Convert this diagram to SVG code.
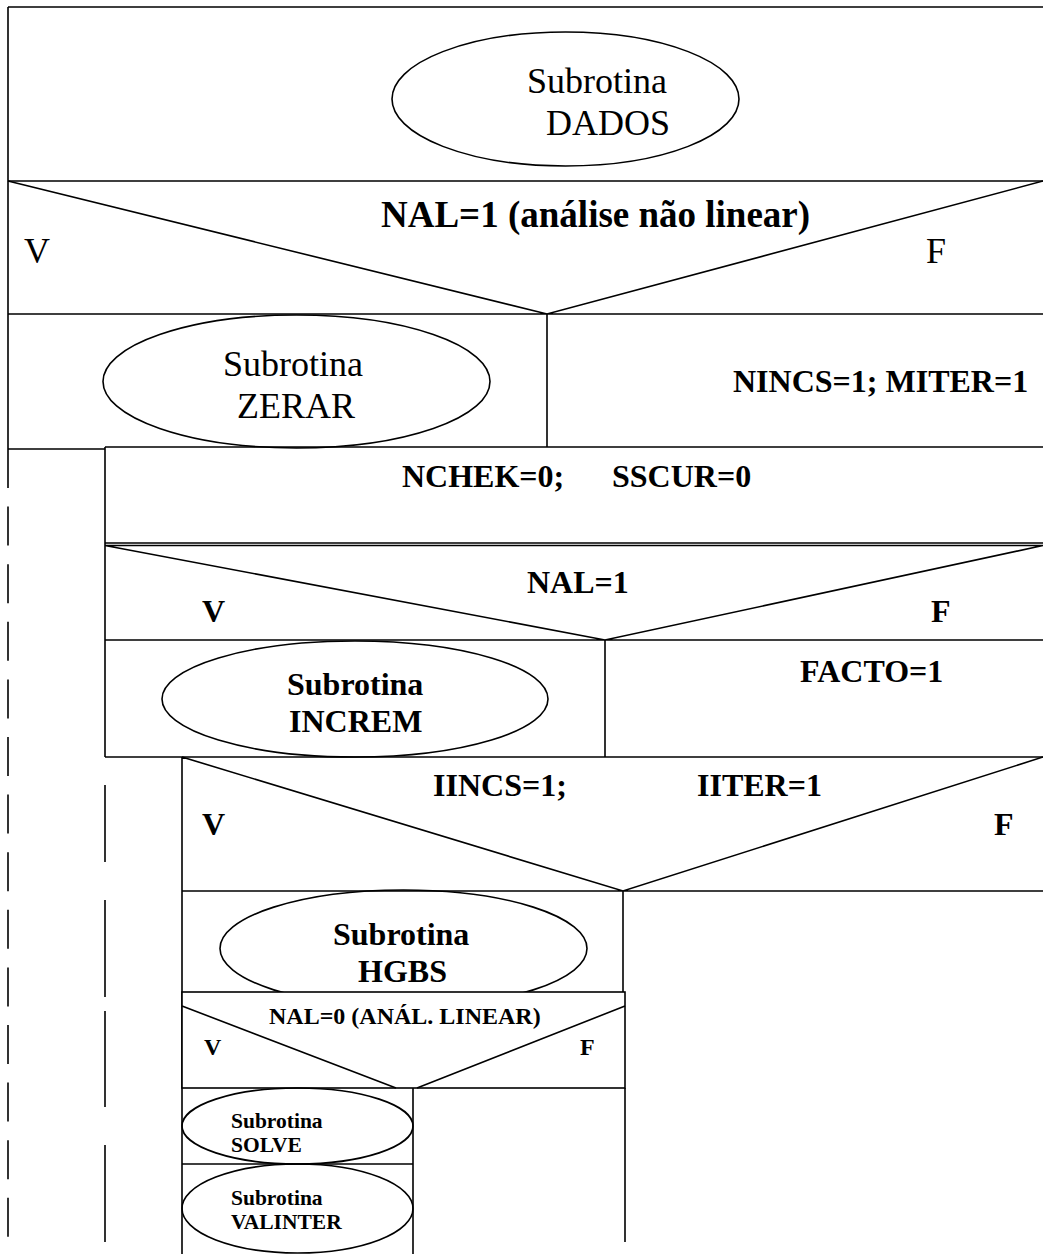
<svg xmlns="http://www.w3.org/2000/svg" width="1043" height="1254" viewBox="0 0 1043 1254">
<style>
.l{stroke:#000;stroke-width:1.6;fill:none}
.w{stroke:#000;stroke-width:1.6;fill:#fff}
.t{font-family:"Liberation Serif","Times New Roman",serif;fill:#000}
.r{font-size:36px}
.b{font-weight:bold;font-size:32px}
.s{font-weight:bold;font-size:24px}
.xs{font-weight:bold;font-size:21.5px}
</style>
<rect width="1043" height="1254" fill="#fff"/>

<g id="dados">
<path class="l" d="M8,7 H1043 M8,7 V449 M8,181 H1043"/>
<ellipse class="l" cx="565.5" cy="99" rx="173.5" ry="67"/>
<text class="t r" x="527" y="93">Subrotina</text>
<text class="t r" x="546" y="135">DADOS</text>
</g>

<g id="dec-nal1-nl">
<path class="l" d="M8,181 L547,314 L1043,181 M8,314 H1043"/>
<text class="t r" x="381" y="227" style="font-weight:bold;font-size:37px">NAL=1 (análise não linear)</text>
<text class="t r" x="24" y="263">V</text>
<text class="t r" x="926" y="263">F</text>
</g>

<g id="zerar">
<path class="l" d="M547,314 V447 M8,449 H105"/>
<ellipse class="l" cx="296.5" cy="381.5" rx="193.5" ry="66.5"/>
<text class="t r" x="223" y="376">Subrotina</text>
<text class="t r" x="237" y="418">ZERAR</text>
</g>

<g id="nincs">
<text class="t b" x="733" y="392">NINCS=1; MITER=1</text>
</g>

<g id="nchek">
<path class="l" d="M105,447 H1043 M105,447 V757 M105,543 H1043"/>
<text class="t b" x="402" y="487">NCHEK=0;</text>
<text class="t b" x="612" y="487">SSCUR=0</text>
</g>

<g id="dec-nal1">
<path class="l" d="M105,545.5 H1043 M105,545.5 L605,640 L1043,545.5 M105,640 H1043"/>
<text class="t b" x="527" y="593">NAL=1</text>
<text class="t b" x="202" y="622">V</text>
<text class="t b" x="931" y="622">F</text>
</g>

<g id="increm">
<path class="l" d="M605,640 V757 M105,757 H1043"/>
<ellipse class="l" cx="355" cy="699" rx="193" ry="58"/>
<text class="t b" x="287" y="695">Subrotina</text>
<text class="t b" x="289" y="732">INCREM</text>
</g>

<g id="facto">
<text class="t b" x="800" y="682">FACTO=1</text>
</g>

<g id="dec-iincs">
<path class="l" d="M182,757 V1254 M182,757 L623,891 L1043,757 M182,891 H1043"/>
<text class="t b" x="433" y="796">IINCS=1;</text>
<text class="t b" x="697" y="796">IITER=1</text>
<text class="t b" x="202" y="835">V</text>
<text class="t b" x="994" y="835">F</text>
</g>

<g id="hgbs">
<path class="l" d="M623,891 V992"/>
<ellipse class="l" cx="403.5" cy="948.5" rx="183.5" ry="58.5"/>
<text class="t b" x="333" y="945">Subrotina</text>
<text class="t b" x="358" y="982">HGBS</text>
</g>

<g id="dec-nal0">
<rect class="w" x="182" y="992" width="443" height="96"/>
<path class="l" d="M182,1006 L396,1088 M625,1006 L417,1088 M625,1088 V1242"/>
<text class="t s" x="269" y="1024">NAL=0 (ANÁL. LINEAR)</text>
<text class="t s" x="204" y="1055">V</text>
<text class="t s" x="580" y="1055">F</text>
</g>

<g id="solve">
<path class="l" d="M413,1088 V1254 M182,1164 H413"/>
<ellipse class="l" cx="297.5" cy="1126" rx="115.5" ry="38"/>
<text class="t xs" x="231" y="1128">Subrotina</text>
<text class="t xs" x="231" y="1152">SOLVE</text>
</g>

<g id="valinter">
<ellipse class="l" cx="297.5" cy="1208.5" rx="115.5" ry="44.5"/>
<text class="t xs" x="231" y="1205">Subrotina</text>
<text class="t xs" x="231" y="1229">VALINTER</text>
</g>

<g id="connectors">
<path class="l" d="M8,449 V1254" stroke-dasharray="39 18.6"/>
<path class="l" d="M105,785 V862 M105,900 V997 M105,1011 V1107 M105,1145 V1242"/>
</g>
</svg>
